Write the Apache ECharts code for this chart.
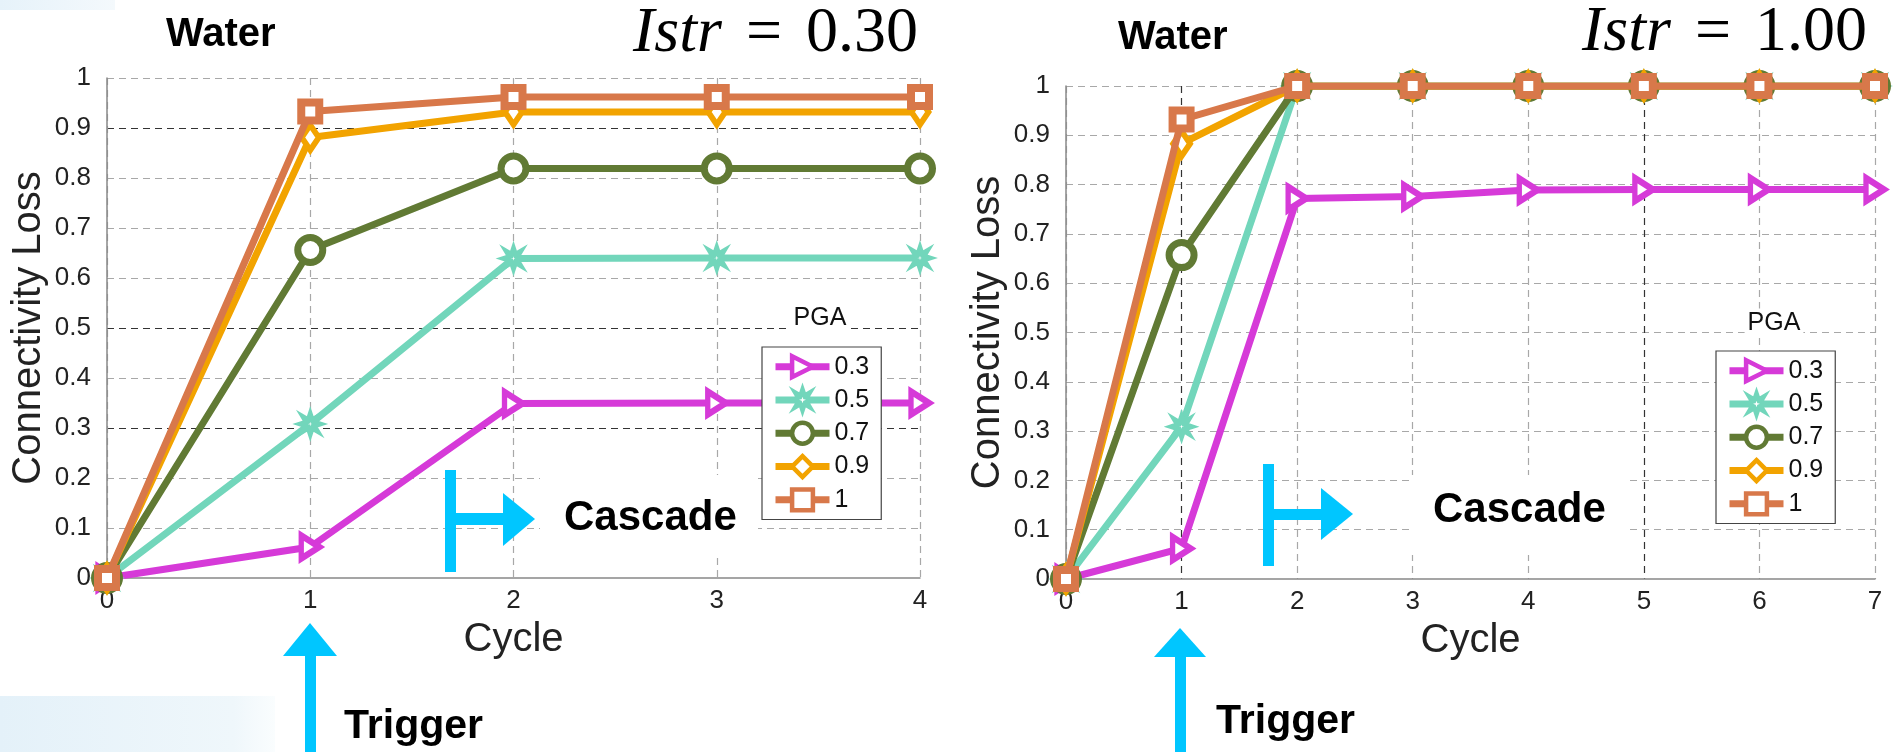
<!DOCTYPE html>
<html><head><meta charset="utf-8">
<script src="https://cdn.jsdelivr.net/npm/echarts@6/dist/echarts.min.js"></script>
<style>html,body{margin:0;padding:0;background:#fff;overflow:hidden}#c{width:1898px;height:752px}</style>
</head><body><div id="c"></div>
<script>
// ---- data ----
const pgaNames = ['0.3', '0.5', '0.7', '0.9', '1'];
const cyclesLeft = ['0', '1', '2', '3', '4'];
const cyclesRight = ['0', '1', '2', '3', '4', '5', '6', '7'];

// Istr = 0.30 panel
const left_pga03 = [0, 0.062, 0.349, 0.35, 0.35];
const left_pga05 = [0, 0.308, 0.639, 0.64, 0.64];
const left_pga07 = [0, 0.656, 0.819, 0.819, 0.819];
const left_pga09 = [0, 0.881, 0.932, 0.932, 0.932];
const left_pga10 = [0, 0.933, 0.962, 0.962, 0.962];

// Istr = 1.00 panel
const right_pga03 = [0, 0.062, 0.772, 0.776, 0.789, 0.79, 0.79, 0.79];
const right_pga05 = [0, 0.309, 1, 1, 1, 1, 1, 1];
const right_pga07 = [0, 0.657, 1, 1, 1, 1, 1, 1];
const right_pga09 = [0, 0.883, 1, 1, 1, 1, 1, 1];
const right_pga10 = [0, 0.932, 1, 1, 1, 1, 1, 1];

const panelTitles = ['Water', 'Water'];
const istrValues = ['0.30', '1.00'];

// ---- styles ----
const FONT = "'Liberation Sans', Arial, sans-serif";
const SERIF = "'Liberation Serif', 'Times New Roman', serif";
const colors = ['#d63ad8', '#72d6bb', '#617a34', '#f2a300', '#d8784a'];
const TRI = 'path://M0,0 L10,5 L0,10 Z';
const STAR = 'path://M50,0 L60,30 L85,15 L70,40 L100,50 L70,60 L85,85 L60,70 L50,100 L40,70 L15,85 L30,60 L0,50 L30,40 L15,15 L40,30 Z';
const symbols = [TRI, STAR, 'circle', 'diamond', 'rect'];
const symbolSizes = [[18, 23], 20, 25, [17, 25], 18];
const borderWidths = [6, 5, 7, 6, 8];
const ARROW = '#00c6ff';

const G = '#a8a8a8', D = '#333';

function mkSeries(names, datas, idx) {
  return datas.map((d, i) => ({
    name: names[i], type: 'line', xAxisIndex: idx, yAxisIndex: idx,
    data: d, symbol: symbols[i], symbolSize: symbolSizes[i], showAllSymbol: true,
    lineStyle: { color: colors[i], width: 7 },
    itemStyle: { color: '#fff', borderColor: colors[i], borderWidth: borderWidths[i] },
    emphasis: { disabled: true }, animation: false, z: 2 + i * 0.01
  }));
}

function yAxis(idx, colorsArr) {
  return {
    type: 'value', gridIndex: idx, min: 0, max: 1, interval: 0.1,
    name: 'Connectivity Loss', nameLocation: 'middle', nameGap: 58,
    nameTextStyle: { fontFamily: FONT, fontSize: 40, color: '#222' },
    axisLine: { show: true, lineStyle: { color: '#888', width: 1.5 } },
    axisTick: { show: false },
    axisLabel: { fontFamily: FONT, fontSize: 26, color: '#222', margin: 16 },
    splitLine: { show: true, showMinLine: false, lineStyle: { color: colorsArr, type: [7, 5], width: 1.2 } }
  };
}
function xAxis(idx, cats, colorsArr) {
  return {
    type: 'category', gridIndex: idx, data: cats, boundaryGap: false,
    name: 'Cycle', nameLocation: 'middle', nameGap: 42,
    nameTextStyle: { fontFamily: FONT, fontSize: 40, color: '#222' },
    axisLine: { show: true, lineStyle: { color: '#888', width: 1.5 } },
    axisTick: { show: false },
    axisLabel: { fontFamily: FONT, fontSize: 26, color: '#222', margin: 10, interval: 0 },
    splitLine: { show: true, interval: 0, lineStyle: { color: colorsArr, type: [7, 5], width: 1.2 } }
  };
}

function legend(left, top) {
  return {
    left: left, top: top, orient: 'vertical', data: pgaNames, selectedMode: false,
    backgroundColor: '#fff', borderColor: '#444', borderWidth: 1.2, borderRadius: 0,
    padding: [7, 12, 7, 10], itemGap: 8, itemWidth: 54, itemHeight: 26,
    lineStyle: { width: 7 },
    itemStyle: { borderWidth: 4.5 },
    textStyle: { fontFamily: FONT, fontSize: 25, color: '#111' }, z: 10
  };
}

function txt(x, y, s, size, weight) {
  return { type: 'text', x: x, y: y, z: 100,
    style: { text: s, fontFamily: FONT, fontSize: size, fontWeight: weight || 'normal', fill: '#000', verticalAlign: 'middle' } };
}
function rect(x, y, w, h, fill, z) {
  return { type: 'rect', shape: { x: x, y: y, width: w, height: h }, style: { fill: fill }, z: z || 90 };
}
function poly(pts, fill) {
  return { type: 'polygon', shape: { points: pts }, style: { fill: fill }, z: 95 };
}
function pgaLabel(x, y) {
  return { type: 'text', x: x, y: y, z: 100,
    style: { text: 'PGA', fontFamily: FONT, fontSize: 25, fill: '#111', verticalAlign: 'middle', align: 'center', backgroundColor: '#fff', padding: [2, 3] } };
}

const istrText = (x, y, v) => ({
  type: 'text', x: x, y: y, z: 100,
  style: {
    text: '{i|Istr}{e|=}{n|' + v + '}', verticalAlign: 'middle',
    rich: {
      i: { fontFamily: SERIF, fontSize: 64, fontStyle: 'italic', fill: '#000' },
      e: { fontFamily: SERIF, fontSize: 64, fill: '#000', padding: [0, 24, 0, 24] },
      n: { fontFamily: SERIF, fontSize: 64, fill: '#000' }
    }
  }
});

const leftGridLines = [G, G, G, D, G, D, G, G, G, D, G];
const option = {
  backgroundColor: '#fff',
  animation: false,
  grid: [
    { left: 107, top: 78, width: 813, height: 500 },
    { left: 1066, top: 86, width: 809, height: 493 }
  ],
  xAxis: [
    xAxis(0, cyclesLeft, [G]),
    xAxis(1, cyclesRight, [G, D, G, G, G, D, G, G])
  ],
  yAxis: [
    yAxis(0, leftGridLines.slice(1)),
    yAxis(1, [G])
  ],
  legend: [legend(762, 347), legend(1716, 351)],
  series: [
    ...mkSeries(pgaNames, [left_pga03, left_pga05, left_pga07, left_pga09, left_pga10], 0),
    ...mkSeries(pgaNames, [right_pga03, right_pga05, right_pga07, right_pga09, right_pga10], 1)
  ],
  graphic: [
    // faint background texture patches
    { type: 'rect', shape: { x: 0, y: 0, width: 115, height: 10 }, z: 0,
      style: { fill: new echarts.graphic.LinearGradient(0, 0, 1, 0, [{ offset: 0, color: '#e6f2fa' }, { offset: 1, color: '#f4f9fc' }]) } },
    { type: 'rect', shape: { x: 0, y: 696, width: 275, height: 56 }, z: 0,
      style: { fill: new echarts.graphic.LinearGradient(0, 0, 1, 0, [{ offset: 0, color: '#e4f1f9' }, { offset: 0.85, color: '#eff7fb' }, { offset: 1, color: '#fafdfe' }]) } },

    // titles
    txt(166, 35, panelTitles[0], 40, 'bold'),
    txt(1118, 38, panelTitles[1], 40, 'bold'),
    istrText(633, 34, istrValues[0]),
    istrText(1582, 33, istrValues[1]),

    // PGA legend titles
    pgaLabel(820, 318),
    pgaLabel(1774, 323),

    // Cascade (left)
    rect(540, 475, 218, 78, '#fff', 80),
    rect(445, 470, 11, 102, ARROW),
    rect(456, 513, 48, 12, ARROW),
    poly([[503, 493], [503, 546], [535, 519]], ARROW),
    txt(564, 518, 'Cascade', 42, 'bold'),

    // Cascade (right)
    rect(1410, 475, 217, 80, '#fff', 80),
    rect(1263, 464, 11, 102, ARROW),
    rect(1274, 509, 48, 11, ARROW),
    poly([[1321, 488], [1321, 540], [1353, 514]], ARROW),
    txt(1433, 510, 'Cascade', 42, 'bold'),

    // Trigger (left)
    rect(305, 654, 11, 98, ARROW),
    poly([[283, 656], [337, 656], [310, 623]], ARROW),
    txt(344, 727, 'Trigger', 41, 'bold'),

    // Trigger (right)
    rect(1175, 655, 11, 97, ARROW),
    poly([[1154, 657], [1206, 657], [1180, 628]], ARROW),
    txt(1216, 722, 'Trigger', 41, 'bold')
  ]
};

const chart = echarts.init(document.getElementById('c'), null, { renderer: 'canvas' });
chart.setOption(option);
</script>
</body></html>
